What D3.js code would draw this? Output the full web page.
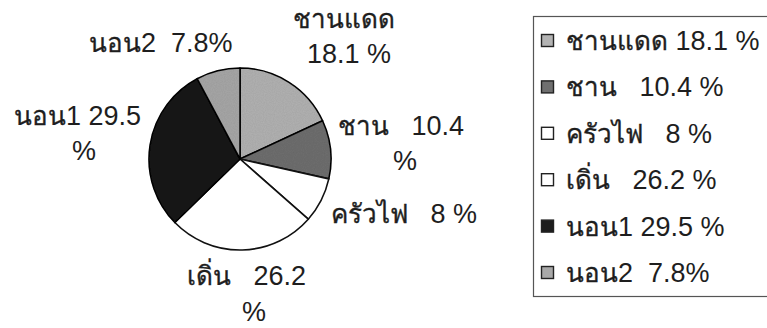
<!DOCTYPE html>
<html>
<head>
<meta charset="utf-8">
<script src="https://cdn.jsdelivr.net/npm/d3@7"></script>
<style>
  html, body { margin: 0; padding: 0; background: #fff; }
  svg text { font-family: "Liberation Sans", Arial, "Noto Sans", sans-serif; fill: #1e1e1e; white-space: pre; }
  svg tspan.th { stroke: #1e1e1e; stroke-width: 0.35px; }
</style>
</head>
<body>
<svg id="chart" width="767" height="328"></svg>
<script>
// Share of area by zone (percent)
const categories = ["ชานแดด", "ชาน", "ครัวไฟ", "เดิ่น", "นอน1", "นอน2"];
const values = [18.1, 10.4, 8, 26.2, 29.5, 7.8];
const fills = ["#b3b3b3", "#6f6f6f", "#ffffff", "#ffffff", "#1d1d1d", "#a8a8a8"];

// Slice label lines (as printed beside the pie)
const sliceLabelLines = [
  ["ชานแดด", "18.1 %"],
  ["ชาน   10.4", "%"],
  ["ครัวไฟ   8 %"],
  ["เดิ่น   26.2", "%"],
  ["นอน1 29.5", "%"],
  ["นอน2  7.8%"]
];
// Legend entries
const legendLabels = ["ชานแดด 18.1 %", "ชาน   10.4 %", "ครัวไฟ   8 %", "เดิ่น   26.2 %", "นอน1 29.5 %", "นอน2  7.8%"];

const thaiSize = 26, latinSize = 27;

const svg = d3.select("#chart");
const cx = 240, cy = 159, r = 91;

const pie = d3.pie().sort(null).value(d => d)
  .startAngle(0).endAngle(2 * Math.PI);
const arcs = pie(values);
const arc = d3.arc().innerRadius(0).outerRadius(r);

// subtle speckle texture for the gray slices
const defs = svg.append("defs");
const filt = defs.append("filter").attr("id", "grain");
filt.append("feTurbulence").attr("type", "fractalNoise").attr("baseFrequency", 0.9).attr("numOctaves", 1).attr("result", "n");
filt.append("feColorMatrix").attr("in", "n").attr("type", "matrix")
  .attr("values", "0 0 0 0 0  0 0 0 0 0  0 0 0 0 0  0 0 0 0.18 0").attr("result", "a");
filt.append("feComposite").attr("in", "a").attr("in2", "SourceGraphic").attr("operator", "in").attr("result", "b");
const mrg = filt.append("feMerge");
mrg.append("feMergeNode").attr("in", "SourceGraphic");
mrg.append("feMergeNode").attr("in", "b");

const g = svg.append("g").attr("transform", `translate(${cx},${cy})`);
g.selectAll("path.slice")
  .data(arcs)
  .join("path")
  .attr("class", "slice")
  .attr("d", arc)
  .attr("fill", (d, i) => fills[i])
  .attr("filter", (d, i) => fills[i] === "#ffffff" ? null : "url(#grain)")
  .attr("stroke", "#111")
  .attr("stroke-width", 1.6)
  .attr("stroke-linejoin", "round");

// write a string with Thai runs and Latin runs at their own sizes
function richText(sel, str) {
  const parts = str.match(/[\u0E00-\u0E7F]+|[^\u0E00-\u0E7F]+/g) || [];
  parts.forEach(p => {
    const isThai = /[\u0E00-\u0E7F]/.test(p);
    sel.append("tspan")
      .attr("class", isThai ? "th" : null)
      .attr("font-size", isThai ? thaiSize : latinSize)
      .text(p);
  });
}

// Left edge / baseline of each label line, per slice
const labelPos = [
  [[293, 28], [307, 63]],
  [[338, 135], [393, 170]],
  [[331, 223]],
  [[187, 285], [242, 321]],
  [[14, 125], [72, 160]],
  [[89, 52]]
];

const labels = svg.append("g");
arcs.forEach((a, i) => {
  sliceLabelLines[i].forEach((line, k) => {
    const t = labels.append("text")
      .attr("x", labelPos[i][k][0])
      .attr("y", labelPos[i][k][1]);
    richText(t, line);
  });
});

// Legend
const legend = svg.append("g");
legend.append("rect")
  .attr("x", 533.5).attr("y", 16.5)
  .attr("width", 250).attr("height", 280)
  .attr("fill", "#fff").attr("stroke", "#555").attr("stroke-width", 1.2);

const rowY = d3.scalePoint().domain(d3.range(categories.length)).range([50, 282]);
const rows = legend.selectAll("g.row").data(categories).join("g").attr("class", "row")
  .attr("transform", (d, i) => `translate(0,${rowY(i)})`);
rows.append("rect")
  .attr("x", 541.5).attr("y", -15.5).attr("width", 12).attr("height", 12)
  .attr("fill", (d, i) => fills[i])
  .attr("stroke", "#222").attr("stroke-width", 1.4);
rows.append("text")
  .attr("x", 566).attr("y", 0)
  .each(function (d, i) { richText(d3.select(this), legendLabels[i]); });
</script>
</body>
</html>
